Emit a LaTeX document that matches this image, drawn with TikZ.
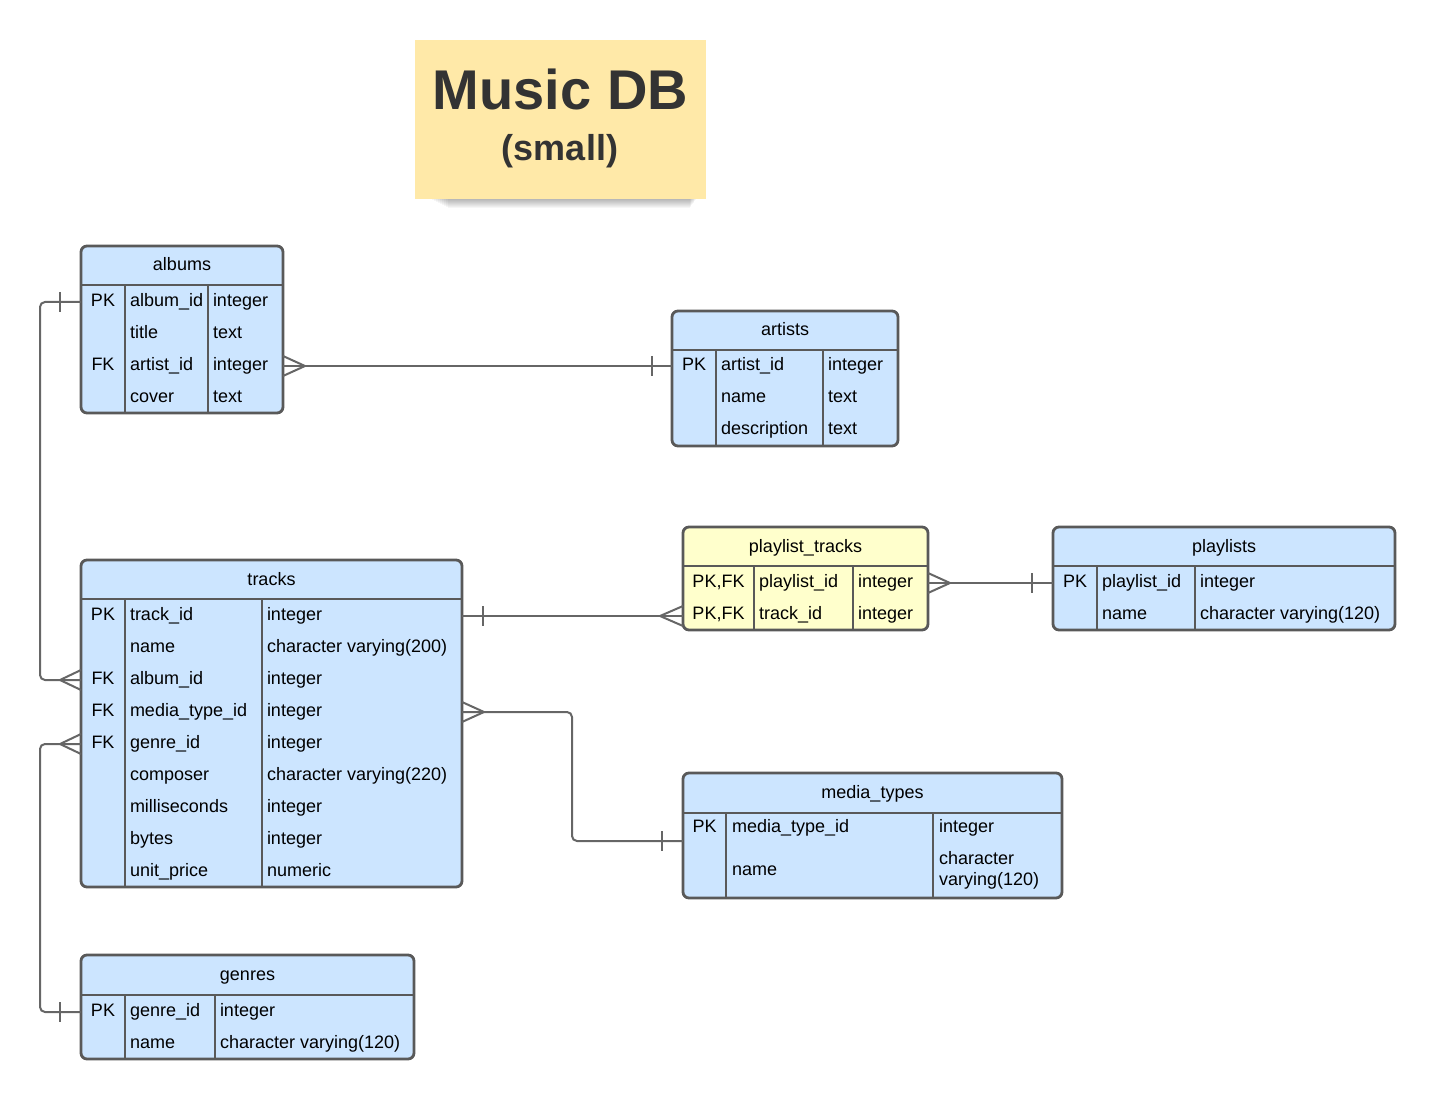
\documentclass[tikz,border=0pt]{standalone}
\usepackage{fontspec}
\setmainfont{Liberation Sans}
\usetikzlibrary{calc}
\definecolor{tblue}{HTML}{CCE5FF}
\definecolor{tyellow}{HTML}{FFFFCC}
\definecolor{sticky}{HTML}{FFE9A8}
\definecolor{bord}{HTML}{595959}
\definecolor{relc}{HTML}{666666}
\definecolor{ttl}{HTML}{333333}
\begin{document}
\begin{tikzpicture}[x=1pt,y=-1pt,
  tbl/.style={draw=bord, line width=2.8pt, rounded corners=6pt, fill=tblue, anchor=north west, inner sep=0pt, outer sep=0pt},
  sepl/.style={draw=bord, line width=2.8pt},
  cell/.style={inner sep=0pt, outer sep=0pt, text height=12pt, text depth=3pt, font=\fontsize{18}{21}\selectfont},
  hdr/.style={cell, anchor=center},
  keyc/.style={cell, anchor=center},
  fld/.style={cell, anchor=west},
  rel/.style={draw=relc, line width=2pt, rounded corners=5pt},
  crow/.style={draw=relc, line width=2pt, sharp corners},
]
\useasboundingbox (0,0) rectangle (1436,1099);

% ---------- sticky note ----------
\foreach \i in {1,...,10}
  \fill[black, opacity=0.035] (428+2*\i,198) rectangle (697-0.7*\i,198+\i);
\node[fill=sticky, minimum width=291pt, minimum height=159pt, anchor=north west, inner sep=0pt, outer sep=0pt] (note) at (415,40) {};
\node[font=\bfseries\fontsize{56}{60}\selectfont, text=ttl, anchor=base, inner sep=0pt] (ttl1) at (560.5,110) {Music DB};
\node[font=\bfseries\fontsize{36}{40}\selectfont, text=ttl, anchor=base, inner sep=0pt] (ttl2) at (560,161) {(small)};

% ---------- albums ----------
\node[tbl, minimum width=202pt, minimum height=167pt] (albums) at (81,246) {};
\draw[sepl] (81,285) -- (283,285) (125,285) -- (125,413) (208,285) -- (208,413);
\node[hdr] (albums-h) at (182,266.5) {albums};
\foreach \k/\n/\t [count=\i] in {PK/album\_id/integer, /title/text, FK/artist\_id/integer, /cover/text}{
  \node[keyc] (albums-k\i) at (103,{270+32*\i}) {\k};
  \node[fld] (albums-n\i) at (130,{270+32*\i}) {\n};
  \node[fld] (albums-t\i) at (213,{270+32*\i}) {\t};
}

% ---------- artists ----------
\node[tbl, minimum width=226pt, minimum height=135pt] (artists) at (672,311) {};
\draw[sepl] (672,350) -- (898,350) (716,350) -- (716,446) (823,350) -- (823,446);
\node[hdr] (artists-h) at (785,331.5) {artists};
\foreach \k/\n/\t [count=\i] in {PK/artist\_id/integer, /name/text, /description/text}{
  \node[keyc] (artists-k\i) at (694,{334+32*\i}) {\k};
  \node[fld] (artists-n\i) at (721,{334+32*\i}) {\n};
  \node[fld] (artists-t\i) at (828,{334+32*\i}) {\t};
}

% ---------- playlist_tracks ----------
\node[tbl, fill=tyellow, minimum width=245pt, minimum height=103pt] (pt) at (683,527) {};
\draw[sepl] (683,566) -- (928,566) (754,566) -- (754,630) (853,566) -- (853,630);
\node[hdr] (pt-h) at (805.5,547.5) {playlist\_tracks};
\node[keyc] (pt-k1) at (718.5,583) {PK,FK};
\node[fld] (pt-n1) at (759,583) {playlist\_id};
\node[fld] (pt-t1) at (858,583) {integer};
\node[keyc] (pt-k2) at (718.5,615) {PK,FK};
\node[fld] (pt-n2) at (759,615) {track\_id};
\node[fld] (pt-t2) at (858,615) {integer};

% ---------- playlists ----------
\node[tbl, minimum width=342pt, minimum height=103pt] (playlists) at (1053,527) {};
\draw[sepl] (1053,566) -- (1395,566) (1097,566) -- (1097,630) (1195,566) -- (1195,630);
\node[hdr] (playlists-h) at (1224,547.5) {playlists};
\foreach \k/\n/\t [count=\i] in {PK/playlist\_id/integer, /name/character varying(120)}{
  \node[keyc] (playlists-k\i) at (1075,{551+32*\i}) {\k};
  \node[fld] (playlists-n\i) at (1102,{551+32*\i}) {\n};
  \node[fld] (playlists-t\i) at (1200,{551+32*\i}) {\t};
}

% ---------- tracks ----------
\node[tbl, minimum width=381pt, minimum height=327pt] (tracks) at (81,560) {};
\draw[sepl] (81,599) -- (462,599) (125,599) -- (125,887) (262,599) -- (262,887);
\node[hdr] (tracks-h) at (271.5,580.5) {tracks};
\foreach \k/\n/\t [count=\i] in {PK/track\_id/integer, /name/character varying(200), FK/album\_id/integer, FK/media\_type\_id/integer, FK/genre\_id/integer, /composer/character varying(220), /milliseconds/integer, /bytes/integer, /unit\_price/numeric}{
  \node[keyc] (tracks-k\i) at (103,{584+32*\i}) {\k};
  \node[fld] (tracks-n\i) at (130,{584+32*\i}) {\n};
  \node[fld] (tracks-t\i) at (267,{584+32*\i}) {\t};
}

% ---------- media_types ----------
\node[tbl, minimum width=379pt, minimum height=125pt] (mt) at (683,773) {};
\draw[sepl] (683,813) -- (1062,813) (726,813) -- (726,898) (933,813) -- (933,898);
\node[hdr] (mt-h) at (872.5,793.5) {media\_types};
\node[keyc] (mt-k1) at (704.5,828) {PK};
\node[fld] (mt-n1) at (732,828) {media\_type\_id};
\node[fld] (mt-t1) at (939,828) {integer};
\node[fld] (mt-n2) at (732,871) {name};
\node[fld] (mt-t2a) at (939,860) {character};
\node[fld] (mt-t2b) at (939,881) {varying(120)};

% ---------- genres ----------
\node[tbl, minimum width=333pt, minimum height=104pt] (genres) at (81,955) {};
\draw[sepl] (81,995) -- (414,995) (125,995) -- (125,1059) (215,995) -- (215,1059);
\node[hdr] (genres-h) at (247.5,975.5) {genres};
\foreach \k/\n/\t [count=\i] in {PK/genre\_id/integer, /name/character varying(120)}{
  \node[keyc] (genres-k\i) at (103,{980+32*\i}) {\k};
  \node[fld] (genres-n\i) at (130,{980+32*\i}) {\n};
  \node[fld] (genres-t\i) at (220,{980+32*\i}) {\t};
}

% ---------- relationships ----------
% albums.album_id (one) -- tracks.album_id (many)
\draw[rel] (albums-k1 -| albums.west) -- ++(-41,0) |- (tracks-k3 -| tracks.west);
\draw[crow] ($(albums-k1 -| albums.west)+(-21,-10)$) -- ++(0,20);
\draw[crow] ($(tracks-k3 -| tracks.west)+(0,-10)$) -- ++(-21,10) -- ++(21,10);

% tracks.genre_id (many) -- genres.genre_id (one)
\draw[rel] (tracks-k5 -| tracks.west) -- ++(-41,0) |- (genres-k1 -| genres.west);
\draw[crow] ($(tracks-k5 -| tracks.west)+(0,-10)$) -- ++(-21,10) -- ++(21,10);
\draw[crow] ($(genres-k1 -| genres.west)+(-21,-10)$) -- ++(0,20);

% albums.artist_id (many) -- artists.artist_id (one)
\draw[rel] (albums-k3 -| albums.east) -- (albums-k3 -| artists.west);
\draw[crow] ($(albums-k3 -| albums.east)+(0,-10)$) -- ++(22,10) -- ++(-22,10);
\draw[crow] ($(albums-k3 -| artists.west)+(-20,-10)$) -- ++(0,20);

% tracks.track_id (one) -- playlist_tracks.track_id (many)
\draw[rel] (tracks-k1 -| tracks.east) -- (tracks-k1 -| pt.west);
\draw[crow] ($(tracks-k1 -| tracks.east)+(21,-10)$) -- ++(0,20);
\draw[crow] ($(tracks-k1 -| pt.west)+(0,-10)$) -- ++(-23,10) -- ++(23,10);

% playlist_tracks.playlist_id (many) -- playlists.playlist_id (one)
\draw[rel] (pt-k1 -| pt.east) -- (pt-k1 -| playlists.west);
\draw[crow] ($(pt-k1 -| pt.east)+(0,-10)$) -- ++(22,10) -- ++(-22,10);
\draw[crow] ($(pt-k1 -| playlists.west)+(-21,-10)$) -- ++(0,20);

% tracks.media_type_id (many) -- media_types.media_type_id (one)
\draw[rel] (tracks-k4 -| tracks.east) -- ++(110,0) |- ($(mt.west)+(0,5.5)$);
\draw[crow] ($(tracks-k4 -| tracks.east)+(0,-10)$) -- ++(22,10) -- ++(-22,10);
\draw[crow] ($(mt.west)+(-21,-4.5)$) -- ++(0,20);
\end{tikzpicture}
\end{document}
